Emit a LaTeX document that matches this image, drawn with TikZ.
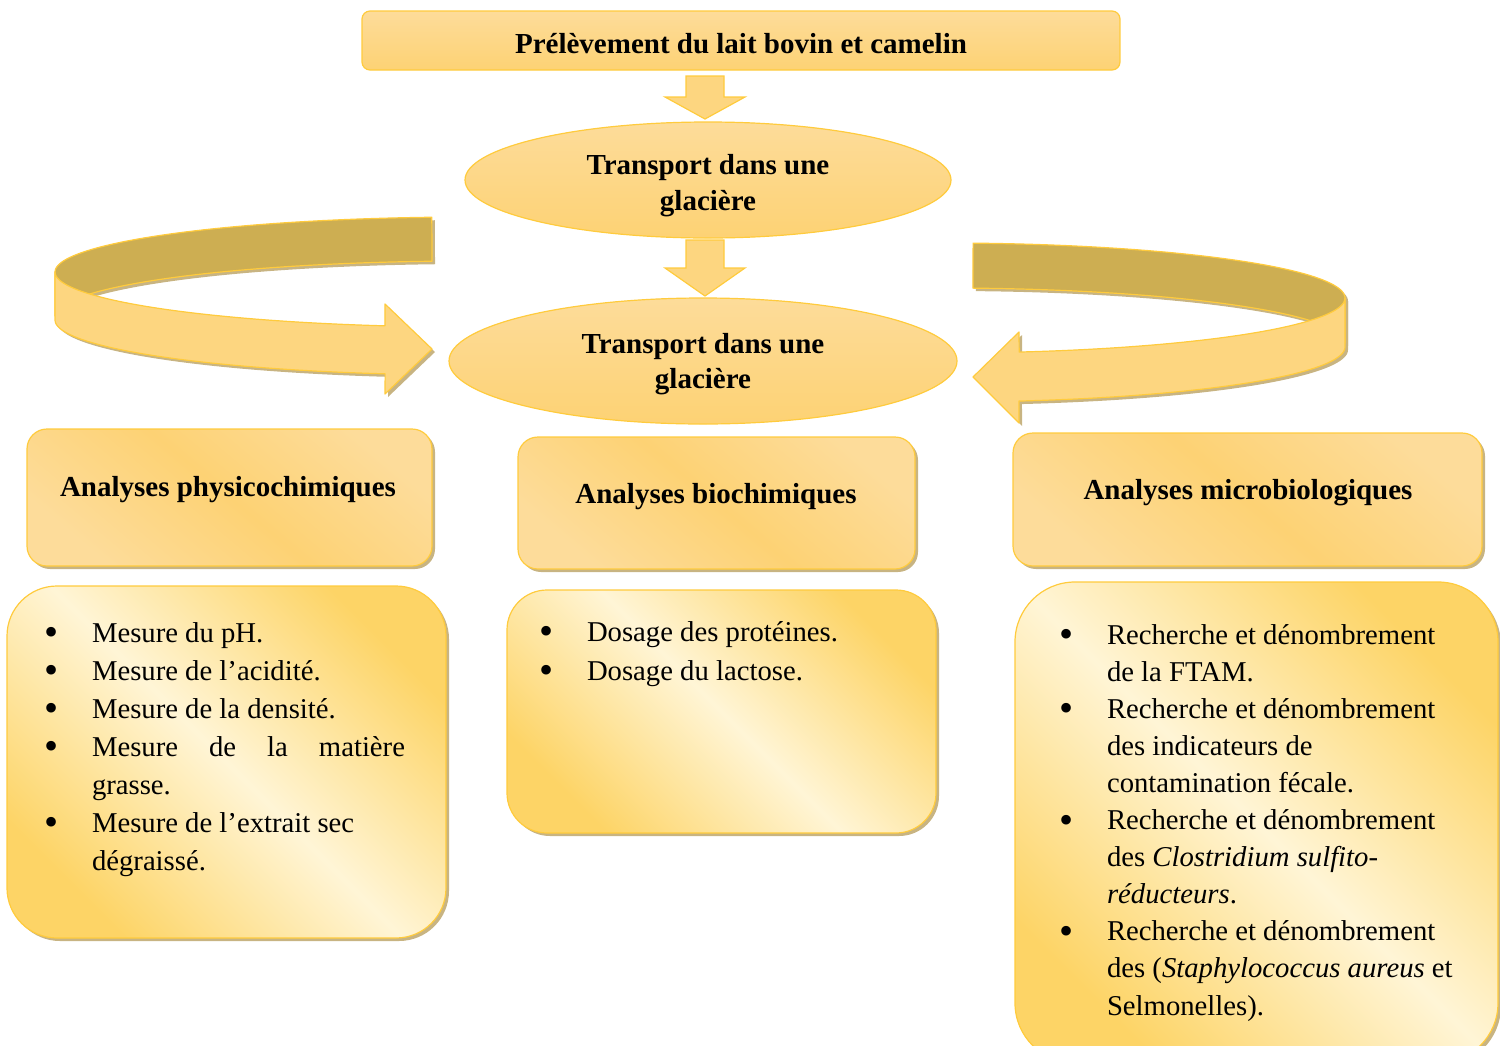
\documentclass[tikz,border=0pt]{standalone}
\usepackage{fontspec}
\setmainfont{Liberation Serif}
\usetikzlibrary{shapes.geometric,shadows,calc}

\definecolor{edge}{HTML}{FFCB3D}
\definecolor{fillA}{HTML}{FDD274}
\definecolor{fillB}{HTML}{FDDC9A}
\definecolor{deep}{HTML}{FDD466}
\definecolor{cream}{HTML}{FFF5D6}
\definecolor{ribbonback}{HTML}{CDAE52}
\definecolor{ribbonfront}{HTML}{FDD680}
\definecolor{shadowc}{HTML}{C8B482}

% list bullet in its own fixed-width column
\newcommand\bul{\makebox[48pt][l]{\raisebox{-3.5pt}{\scalebox{1.4}{•}}}}

\begin{document}
\begin{tikzpicture}[x=1pt,y=-1pt,
  every node/.style={inner sep=0pt,outer sep=0pt},
  frame/.style={draw=edge,line width=1.2pt},
  shade/.style={drop shadow={shadow xshift=3pt,shadow yshift=-3pt,fill=shadowc,opacity=1}},
  topbox/.style={frame,rectangle,rounded corners=8,top color=fillB,bottom color=fillA},
  ellbox/.style={frame,ellipse,top color=fillB,bottom color=fillA},
  headbox/.style={frame,shade,rectangle,rounded corners=20,
    top color=fillB,bottom color=fillB,middle color=fillA,shading angle=-40},
  listbox/.style={frame,shade,rectangle,
    top color=deep,bottom color=deep,middle color=cream,shading angle=-45},
  headtxt/.style={font=\fontsize{29}{36}\selectfont\bfseries,anchor=base},
  listtxt/.style={anchor=base west},
  blockarrow/.style={frame,fill=ribbonfront,line join=miter},
  ribbon/.style={draw=edge,line width=1.2pt,line join=round},
]
\useasboundingbox (0,0) rectangle (1500,1045);

% ---- top of the flow ----
\node[topbox,minimum width=758,minimum height=59] (top) at (741,40.5) {};
\node[headtxt] (toptxt) at (741,53) {Prélèvement du lait bovin et camelin};

\node[ellbox,minimum width=486,minimum height=116] (e1) at (708,180) {};
\node[headtxt] (e1txt) at (708,174)
  {\begin{tabular}[t]{@{}c@{}}Transport dans une\\glacière\end{tabular}};

\node[ellbox,minimum width=508,minimum height=126] (e2) at (703,361) {};
\node[headtxt,font=\fontsize{29}{35}\selectfont\bfseries] (e2txt) at (703,353)
  {\begin{tabular}[t]{@{}c@{}}Transport dans une\\glacière\end{tabular}};

% ---- block arrows pointing down ----
\draw[blockarrow] let \p1=($(top.south)+(0,6)$), \p2=($(e1.north)+(-3,-3)$) in
  (\x2-19pt,\y1) -- (\x2+19pt,\y1) -- (\x2+19pt,\y2+22pt) -- (\x2+40pt,\y2+22pt)
  -- (\p2) -- (\x2-40pt,\y2+22pt) -- (\x2-19pt,\y2+22pt) -- cycle;
\draw[blockarrow] let \p1=($(e1.south)+(0,2)$), \p2=($(e2.north)+(2,-2)$) in
  (\x2-19pt,\y1) -- (\x2+19pt,\y1) -- (\x2+19pt,\y2+28pt) -- (\x2+40pt,\y2+28pt)
  -- (\p2) -- (\x2-40pt,\y2+28pt) -- (\x2-19pt,\y2+28pt) -- cycle;

% ---- left ribbon arrow ----
\begin{scope}[shift={(3,3)}]
  \fill[shadowc]
    plot[variable=\t,domain=0:1,samples=50] ({470+415*cos(180+84.75*\t)},{272+55*sin(180+84.75*\t)})
    -- plot[variable=\t,domain=0:1,samples=50] ({470+415*cos(264.75-84.75*\t)},{316+55*sin(264.75-84.75*\t)}) -- cycle;
  \fill[shadowc]
    plot[variable=\t,domain=0:1,samples=50] ({470+415*cos(180-78.2*\t)},{272+55*sin(180-78.2*\t)})
    -- (385,304) -- (432,349) -- (385,394)
    -- plot[variable=\t,domain=0:1,samples=50] ({470+415*cos(101.8+78.2*\t)},{320+55*sin(101.8+78.2*\t)}) -- cycle;
\end{scope}
\filldraw[ribbon,fill=ribbonback]
  plot[variable=\t,domain=0:1,samples=50] ({470+415*cos(180+84.75*\t)},{272+55*sin(180+84.75*\t)})
  -- plot[variable=\t,domain=0:1,samples=50] ({470+415*cos(264.75-84.75*\t)},{316+55*sin(264.75-84.75*\t)}) -- cycle;
\filldraw[ribbon,fill=ribbonfront]
  plot[variable=\t,domain=0:1,samples=50] ({470+415*cos(180-78.2*\t)},{272+55*sin(180-78.2*\t)})
  -- (385,304) -- (432,349) -- (385,394)
  -- plot[variable=\t,domain=0:1,samples=50] ({470+415*cos(101.8+78.2*\t)},{320+55*sin(101.8+78.2*\t)}) -- cycle;

% ---- right ribbon arrow ----
\begin{scope}[shift={(3,3)}]
  \fill[shadowc]
    plot[variable=\t,domain=0:1,samples=50] ({945+400*cos(-86*\t)},{298+55*sin(-86*\t)})
    -- plot[variable=\t,domain=0:1,samples=50] ({945+400*cos(-86+86*\t)},{343+55*sin(-86+86*\t)}) -- cycle;
  \fill[shadowc]
    plot[variable=\t,domain=0:1,samples=50] ({945+400*cos(79.34*\t)},{298+55*sin(79.34*\t)})
    -- (1019,332) -- (973,377) -- (1019,423)
    -- plot[variable=\t,domain=0:1,samples=50] ({945+400*cos(79.34-79.34*\t)},{347+55*sin(79.34-79.34*\t)}) -- cycle;
\end{scope}
\filldraw[ribbon,fill=ribbonback]
  plot[variable=\t,domain=0:1,samples=50] ({945+400*cos(-86*\t)},{298+55*sin(-86*\t)})
  -- plot[variable=\t,domain=0:1,samples=50] ({945+400*cos(-86+86*\t)},{343+55*sin(-86+86*\t)}) -- cycle;
\filldraw[ribbon,fill=ribbonfront]
  plot[variable=\t,domain=0:1,samples=50] ({945+400*cos(79.34*\t)},{298+55*sin(79.34*\t)})
  -- (1019,332) -- (973,377) -- (1019,423)
  -- plot[variable=\t,domain=0:1,samples=50] ({945+400*cos(79.34-79.34*\t)},{347+55*sin(79.34-79.34*\t)}) -- cycle;

% ---- analysis headings ----
\node[headbox,minimum width=405,minimum height=137] (hphys) at (229.5,497.5) {};
\node[headtxt] (hphystxt) at (228,496) {Analyses physicochimiques};

\node[headbox,minimum width=397,minimum height=132] (hbio) at (716.5,503) {};
\node[headtxt] (hbiotxt) at (716,503) {Analyses biochimiques};

\node[headbox,minimum width=469,minimum height=133] (hmicro) at (1247.5,499.5) {};
\node[headtxt] (hmicrotxt) at (1248,499) {Analyses microbiologiques};

% ---- lists of measurements ----
\node[listbox,rounded corners=50,minimum width=439,minimum height=352] (lphys) at (226.5,762) {};
\node[listtxt,font=\fontsize{28.7}{38.05}\selectfont] (lphystxt) at (44,642)
  {\begin{tabular}[t]{@{}l@{}l@{}}
   \bul & Mesure du pH.\\
   \bul & Mesure de l’acidité.\\
   \bul & Mesure de la densité.\\
   \bul & \makebox[313pt][s]{Mesure de la matière}\\
    & grasse.\\
   \bul & Mesure de l’extrait sec\\
    & dégraissé.
  \end{tabular}};

\node[listbox,rounded corners=40,minimum width=429,minimum height=243] (lbio) at (721.5,711.5) {};
\node[listtxt,font=\fontsize{28.7}{39.3}\selectfont] (lbiotxt) at (539,641)
  {\begin{tabular}[t]{@{}l@{}l@{}}
   \bul & Dosage des protéines.\\
   \bul & Dosage du lactose.
  \end{tabular}};

\node[listbox,rounded corners=60,minimum width=483,minimum height=481] (lmicro) at (1256.5,822.5) {};
\node[listtxt,font=\fontsize{28.7}{37.1}\selectfont] (lmicrotxt) at (1059,644)
  {\begin{tabular}[t]{@{}l@{}l@{}}
   \bul & Recherche et dénombrement\\
    & de la FTAM.\\
   \bul & Recherche et dénombrement\\
    & des indicateurs de\\
    & contamination fécale.\\
   \bul & Recherche et dénombrement\\
    & des \textit{Clostridium sulfito-}\\
    & \textit{réducteurs}.\\
   \bul & Recherche et dénombrement\\
    & des (\textit{Staphylococcus aureus} et\\
    & Selmonelles).
  \end{tabular}};
\end{tikzpicture}
\end{document}
